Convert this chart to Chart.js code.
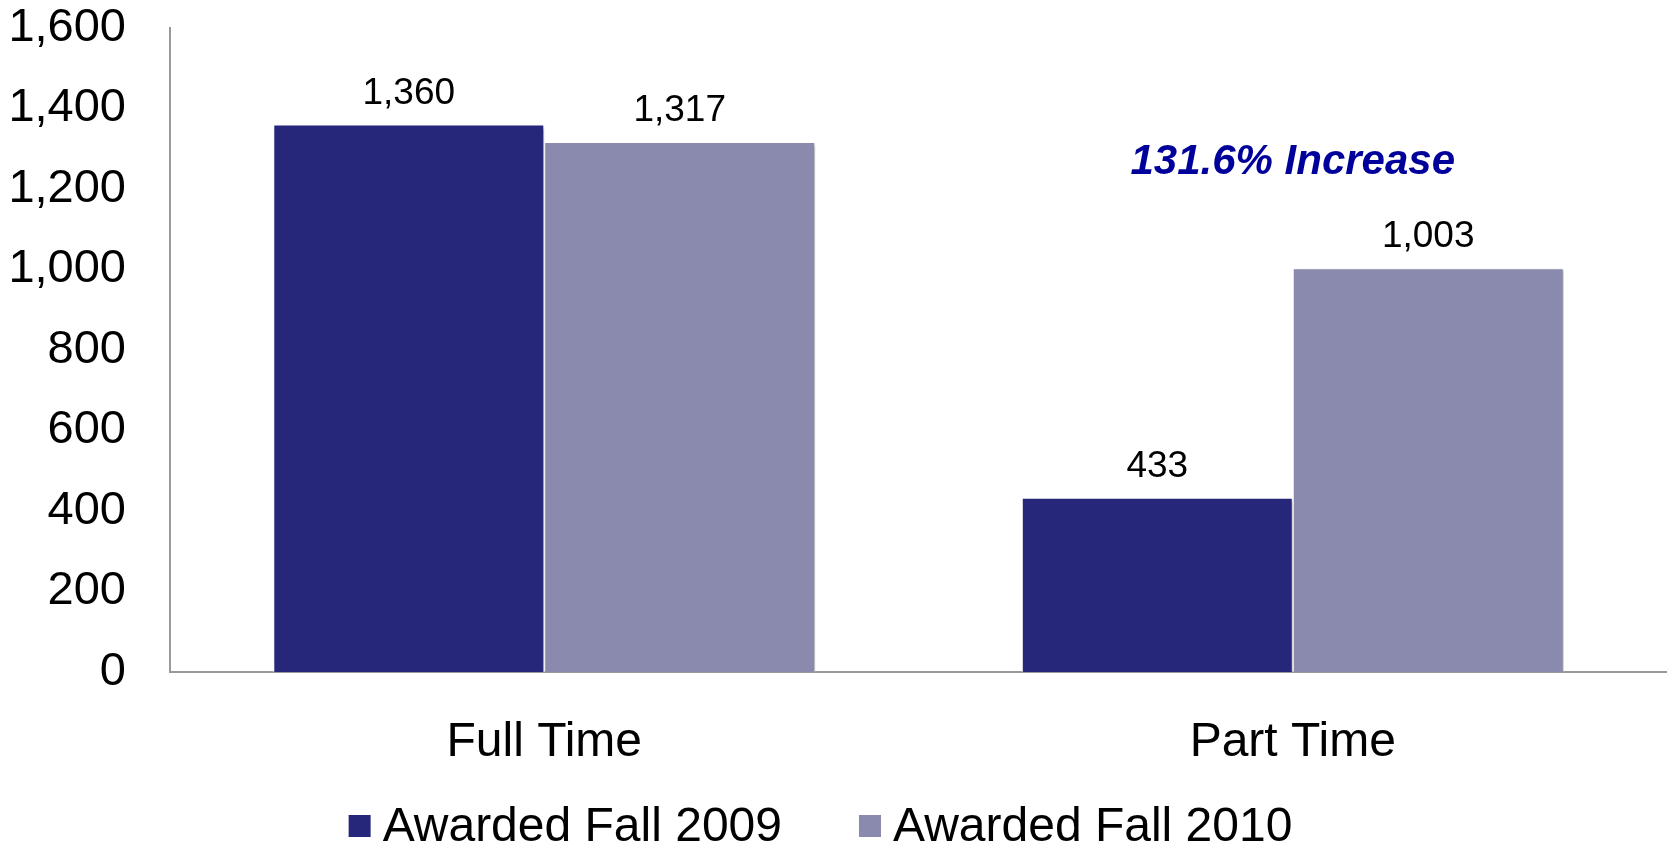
<!DOCTYPE html>
<html>
<head>
<meta charset="utf-8">
<script src="https://cdn.jsdelivr.net/npm/chart.js@4/dist/chart.umd.min.js"></script>
<style>
  html, body { margin: 0; padding: 0; background: #fff; }
  #wrap { width: 1667px; height: 848px; position: relative; }
</style>
</head>
<body>
<div id="wrap"><canvas id="chart"></canvas></div>
<script>
// ================= DATA =================
const categories = ["Full Time", "Part Time"];
const seriesNames = ["Awarded Fall 2009", "Awarded Fall 2010"];
const fall2009 = [1360, 433];
const fall2010 = [1317, 1003];
const yTicks = [0, 200, 400, 600, 800, 1000, 1200, 1400, 1600];

// note over the part time group
const noteText = "131.6% Increase";
const noteValue = 1265;

// ================= STYLE =================
const FONT = '"Liberation Sans", Arial, sans-serif';
const darkBlue = "#26277a";
const greyBlue = "#8a8aae";

// ================= PLUGINS =================
const barShadow = {
  id: "barShadow",
  beforeDatasetsDraw(chart) {
    const ctx = chart.ctx;
    ctx.save();
    ctx.shadowColor = "rgba(0,0,0,0.3)";
    ctx.shadowBlur = 3;
    ctx.shadowOffsetX = 2;
    ctx.shadowOffsetY = 2;
  },
  afterDatasetsDraw(chart) {
    chart.ctx.restore();
  }
};

const barLabels = {
  id: "barLabels",
  afterDatasetsDraw(chart) {
    const ctx = chart.ctx;
    ctx.save();
    ctx.font = "37px " + FONT;
    ctx.fillStyle = "#000";
    ctx.textAlign = "center";
    ctx.textBaseline = "middle";
    chart.data.datasets.forEach((ds, i) => {
      chart.getDatasetMeta(i).data.forEach((bar, j) => {
        ctx.fillText(ds.data[j].toLocaleString("en-US"), bar.x, bar.y - 31);
      });
    });

    // annotation
    const x = chart.scales.x.getPixelForValue(1);
    const y = chart.scales.y.getPixelForValue(noteValue);
    ctx.font = "italic bold 42px " + FONT;
    ctx.fillStyle = "#00009a";
    ctx.fillText(noteText, x, y);
    ctx.restore();
  }
};

// legend drawn by hand so the box/text gaps match
const bottomLegend = {
  id: "bottomLegend",
  afterDraw(chart) {
    const ctx = chart.ctx;
    const box = 22, gapText = 12, gapItem = 77;
    ctx.save();
    ctx.font = "48px " + FONT;
    ctx.textBaseline = "middle";
    ctx.textAlign = "left";
    const items = chart.data.datasets.map(ds => ({
      text: ds.label,
      color: ds.backgroundColor,
      w: box + gapText + ctx.measureText(ds.label).width
    }));
    const total = items.reduce((s, it) => s + it.w, 0) + gapItem * (items.length - 1);
    let x = chart.width / 2 - 13 - total / 2;
    const y = chart.height - 22;
    items.forEach(it => {
      ctx.fillStyle = it.color;
      ctx.fillRect(x, y - box / 2, box, box);
      ctx.fillStyle = "#000";
      ctx.fillText(it.text, x + box + gapText, y + 2);
      x += it.w + gapItem;
    });
    ctx.restore();
  }
};

// ================= CHART =================
new Chart(document.getElementById("chart"), {
  type: "bar",
  data: {
    labels: categories,
    datasets: [
      {
        label: seriesNames[0],
        data: fall2009,
        backgroundColor: darkBlue,
        borderColor: "#ffffff",
        borderWidth: 1
      },
      {
        label: seriesNames[1],
        data: fall2010,
        backgroundColor: greyBlue,
        borderColor: "#ffffff",
        borderWidth: 1
      }
    ]
  },
  options: {
    responsive: true,
    maintainAspectRatio: false,
    animation: false,
    layout: { padding: { left: 8, right: 0, top: 0, bottom: 76 } },
    datasets: {
      bar: { barPercentage: 1, categoryPercentage: 0.724 }
    },
    plugins: {
      tooltip: { enabled: false },
      legend: { display: false }
    },
    scales: {
      x: {
        grid: { display: false, drawTicks: false },
        border: { color: "#999", width: 2 },
        afterFit: axis => {
          axis.height = 100;
          axis.paddingLeft = 0;
          axis.paddingRight = 0;
        },
        ticks: {
          color: "#000",
          font: { family: FONT, size: 48 },
          padding: 42
        }
      },
      y: {
        min: 0,
        max: 1600,
        afterBuildTicks: axis => {
          axis.ticks = yTicks.map(v => ({ value: v }));
        },
        afterFit: axis => {
          axis.width = 162;
          axis.paddingTop = 28;
          axis.paddingBottom = 0;
        },
        grid: { display: false, drawTicks: false },
        border: { color: "#999", width: 2 },
        ticks: {
          color: "#000",
          font: { family: FONT, size: 47 },
          padding: 44,
          callback: v => v.toLocaleString("en-US")
        }
      }
    }
  },
  plugins: [barShadow, barLabels, bottomLegend]
});
</script>
</body>
</html>
